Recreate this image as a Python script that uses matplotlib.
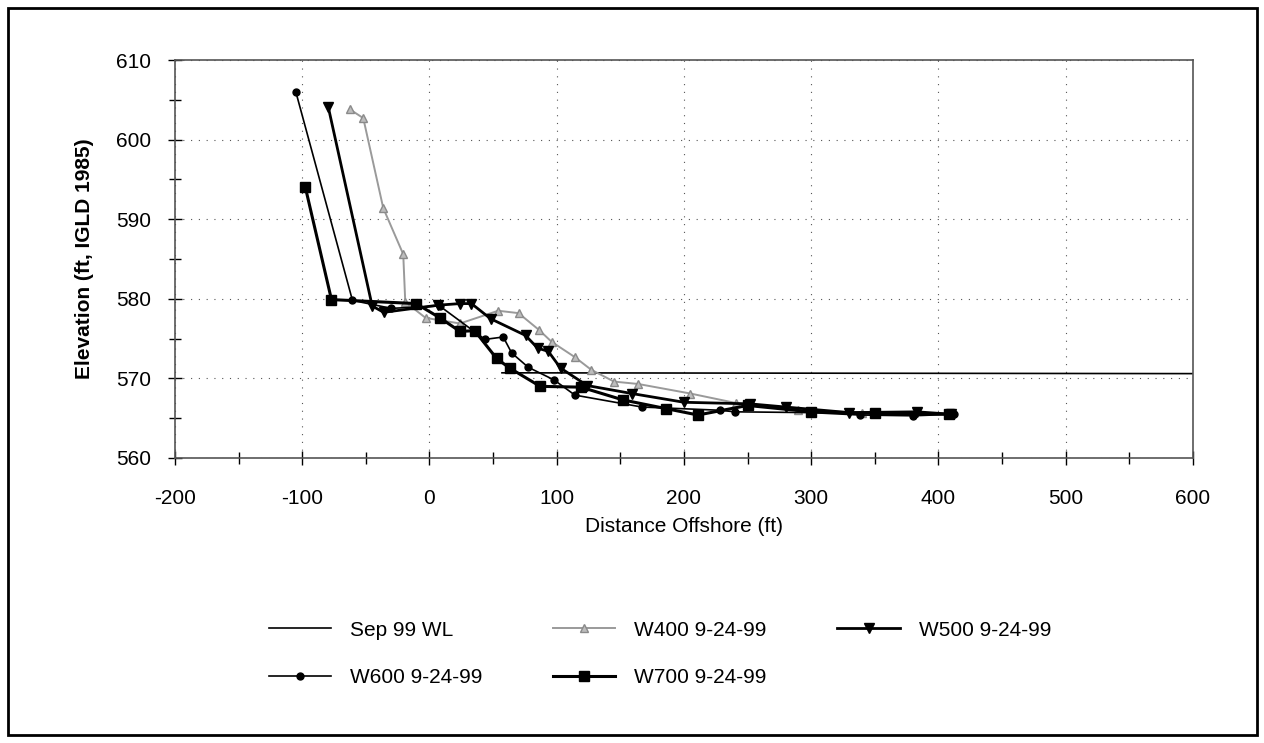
import matplotlib.pyplot as plt
from matplotlib.ticker import MultipleLocator
from matplotlib.patches import Rectangle

plt.rcParams['font.family'] = ['Liberation Sans', 'DejaVu Sans']
plt.rcParams['axes.unicode_minus'] = False

# Sep 99 water level
wl_x = [57, 600]
wl_y = [570.7, 570.6]

# W400 9-24-99
w400_x = [-62.5, -52, -36.3, -20.6, -19, -3, 24, 54, 70, 86, 96, 114, 127, 145, 164, 205, 241, 290, 340, 410]
w400_y = [603.8, 602.7, 591.4, 585.6, 579.6, 577.6, 576.9, 578.5, 578.2, 576.1, 574.6, 572.7, 571.1, 569.6, 569.3, 568.1, 566.9, 566.0, 565.7, 565.5]

# W500 9-24-99
w500_x = [-79.5, -45, -36, 7, 24, 33, 48, 75.5, 85, 93.4, 103, 124, 159, 200, 252, 280, 330, 383, 410]
w500_y = [604.1, 579.1, 578.3, 579.2, 579.4, 579.4, 577.5, 575.4, 573.8, 573.4, 571.3, 569.1, 568.1, 567.0, 566.8, 566.4, 565.7, 565.8, 565.5]

# W600 9-24-99
w600_x = [-105, -60.5, -30, 8, 43.6, 58, 64.6, 77.6, 98, 114.3, 167, 228, 240, 300, 338, 380, 412]
w600_y = [606.0, 579.8, 578.8, 579.1, 574.9, 575.2, 573.2, 571.4, 569.8, 567.9, 566.4, 566.0, 565.8, 565.7, 565.4, 565.3, 565.5]

# W700 9-24-99
w700_x = [-97.5, -77, -10.5, 8.3, 24, 35.5, 52.8, 63, 87, 119, 152, 186, 211, 250, 300, 350, 408]
w700_y = [594.0, 579.9, 579.4, 577.6, 575.9, 576.0, 572.5, 571.3, 569.0, 568.9, 567.3, 566.2, 565.4, 566.6, 565.8, 565.6, 565.5]

fig = plt.figure(figsize=(12.64, 7.43), dpi=100)
ax = fig.add_axes([0.1384, 0.3836, 0.8054, 0.5356])

h_wl, = ax.plot(wl_x, wl_y, color='black', lw=1.2, label='Sep 99 WL')
h400, = ax.plot(w400_x, w400_y, color='#9a9a9a', lw=1.4, marker='^', ms=6,
                mfc='#bdbdbd', mec='#8a8a8a', label='W400 9-24-99')
h500, = ax.plot(w500_x, w500_y, color='black', lw=2.0, marker='v', ms=7,
                label='W500 9-24-99')
h600, = ax.plot(w600_x, w600_y, color='black', lw=1.2, marker='o', ms=5,
                label='W600 9-24-99')
h700, = ax.plot(w700_x, w700_y, color='black', lw=2.2, marker='s', ms=7,
                label='W700 9-24-99')

ax.set_xlim(-200, 600)
ax.set_ylim(560, 610)
ax.xaxis.set_major_locator(MultipleLocator(100))
ax.xaxis.set_minor_locator(MultipleLocator(50))
ax.yaxis.set_major_locator(MultipleLocator(10))
ax.yaxis.set_minor_locator(MultipleLocator(5))
ax.tick_params(which='major', direction='inout', length=10, width=1, labelsize=15)
ax.tick_params(axis='x', which='major', pad=17)
ax.tick_params(axis='y', which='major', pad=12)
ax.tick_params(which='minor', direction='inout', length=8, width=1)
ax.grid(True, which='major', color='#555555', lw=0.8, linestyle=(0, (1, 6)))
for s in ax.spines.values():
    s.set_color('#555555')
    s.set_linewidth(1.2)

ax.set_xlabel('Distance Offshore (ft)', fontsize=15, labelpad=7)
ax.set_ylabel('Elevation (ft, IGLD 1985)', fontsize=15, fontweight='bold', labelpad=16)

# legend filled column by column, so reorder to read row by row
handles = [h_wl, h600, h400, h700, h500]
fig.legend(handles=handles, labels=[h.get_label() for h in handles],
           loc='center', bbox_to_anchor=(0.522, 0.12), ncol=3, frameon=False,
           fontsize=15, handlelength=3.0, columnspacing=3.4, labelspacing=1.35,
           handletextpad=0.9)

# outer border of the chart
fig.patches.append(Rectangle((0.0063, 0.011), 0.988, 0.978, transform=fig.transFigure,
                             fill=False, edgecolor='black', lw=2.0))

fig.savefig('out.png', dpi=100)
